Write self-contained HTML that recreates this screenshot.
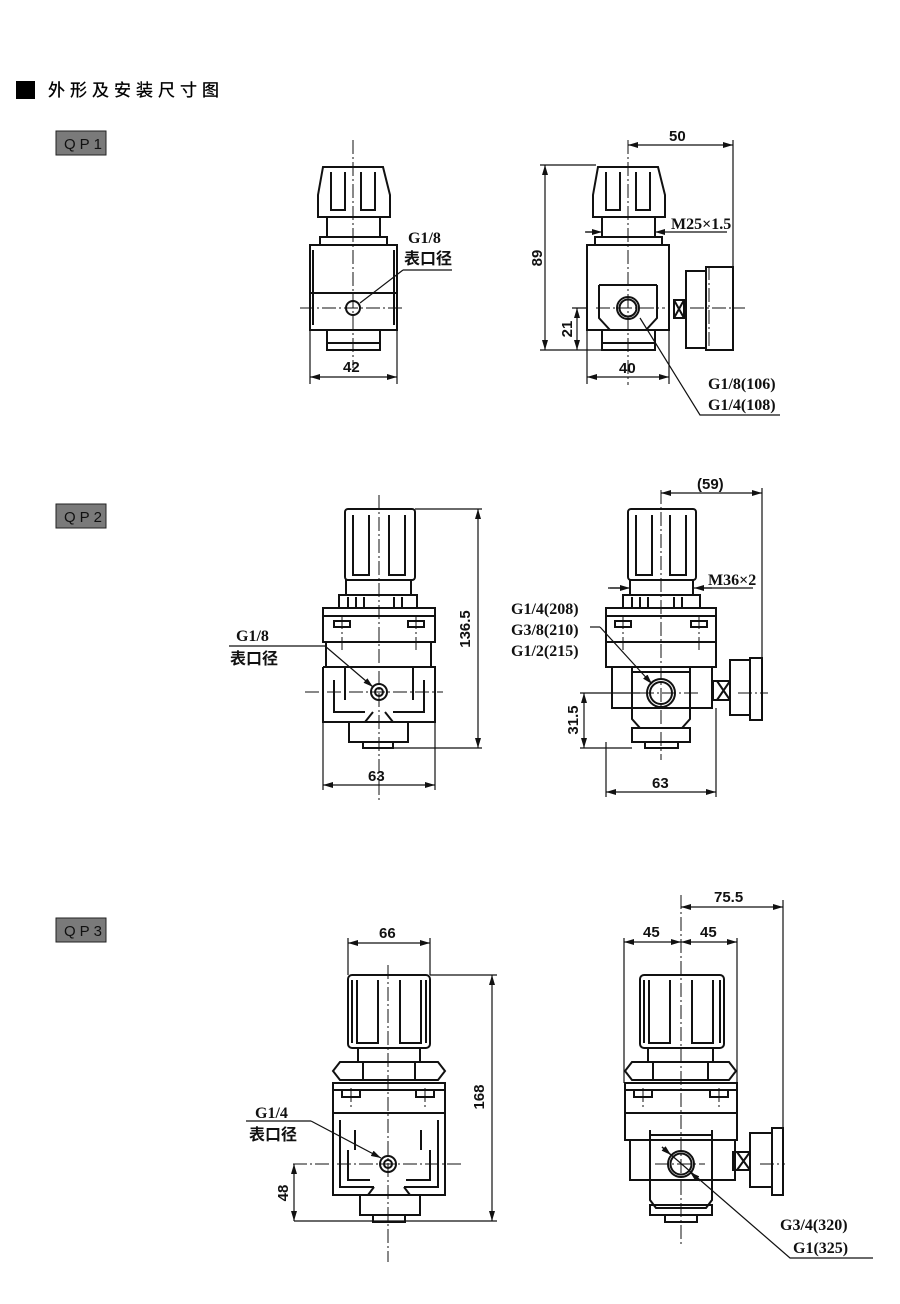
<!DOCTYPE html>
<html><head><meta charset="utf-8"><style>
html,body{margin:0;padding:0;background:#fff}
svg{display:block}
.t{font-family:"Liberation Serif","Noto Serif CJK SC",serif;font-weight:bold;font-size:16px;fill:#111}
.d{font-family:"Liberation Sans","Noto Sans CJK SC",sans-serif;font-weight:bold;font-size:15px;fill:#111}
.c{font-family:"Liberation Sans","Noto Sans CJK SC",sans-serif;font-weight:bold;font-size:16px;fill:#111}
</style></head><body>
<svg width="900" height="1304" viewBox="0 0 900 1304" xmlns="http://www.w3.org/2000/svg">
<defs>
<marker id="a" viewBox="0 0 10 6" refX="10" refY="3" markerWidth="10" markerHeight="6" orient="auto-start-reverse" markerUnits="userSpaceOnUse"><path d="M0,0 L10,3 L0,6 z" fill="#111"/></marker>
</defs>
<rect x="16" y="81" width="19" height="18" fill="#000"/>
<text x="48" y="96" font-family="'Liberation Sans','Noto Sans CJK SC',sans-serif" font-size="17" letter-spacing="5" fill="#000" stroke="#000" stroke-width="0.3">外形及安装尺寸图</text>
<g font-family="'Liberation Sans',sans-serif" font-size="15" fill="#111" letter-spacing="4">
<rect x="56" y="131" width="50" height="24" fill="#7a7a7a" stroke="#222"/><text x="64" y="149">QP1</text>
<rect x="56" y="504" width="50" height="24" fill="#7a7a7a" stroke="#222"/><text x="64" y="522">QP2</text>
<rect x="56" y="918" width="50" height="24" fill="#7a7a7a" stroke="#222"/><text x="64" y="936">QP3</text>
</g>

<g fill="none" stroke="#111" stroke-width="2">
<!-- QP1 left -->
<path d="M323,167 L383,167 L390,195 L390,217 L318,217 L318,195 Z"/>
<path d="M331,172 V210 H345 V172 M361,172 V210 H375 V172"/>
<rect x="327" y="217" width="53" height="20"/><rect x="320" y="237" width="67" height="8"/>
<rect x="310" y="245" width="87" height="85"/><line x1="310" y1="293" x2="397" y2="293"/>
<path d="M313,250 V325 M394,250 V325"/>
<rect x="327" y="330" width="53" height="20"/><path d="M327,343 H380"/>
<circle cx="353" cy="308" r="7"/>
<!-- QP1 right -->
<path d="M598,167 L658,167 L665,195 L665,217 L593,217 L593,195 Z"/>
<path d="M606,172 V210 H620 V172 M636,172 V210 H650 V172"/>
<rect x="602" y="217" width="53" height="20"/><rect x="595" y="237" width="67" height="8"/>
<rect x="587" y="245" width="82" height="85"/><path d="M599,285 H657 M599,285 V318 L610,330 M657,285 V318 L646,330"/>
<rect x="602" y="330" width="53" height="20"/><path d="M602,343 H655"/>
<circle cx="628" cy="308" r="11"/><circle cx="628" cy="308" r="8.5"/>
<rect x="674" y="300" width="10" height="18"/><path d="M674,300 L684,318 M684,300 L674,318"/>
<rect x="686" y="271" width="20" height="77"/><rect x="706" y="267" width="27" height="83"/>
<!-- QP2 left -->
<rect x="345" y="509" width="70" height="71" rx="3"/>
<path d="M353,515 V575 H369 V515 M389,515 V575 H405 V515"/>
<rect x="346" y="580" width="65" height="15"/><rect x="339" y="595" width="78" height="13"/>
<path d="M348,597 V608 M356,597 V608 M364,597 V608 M394,597 V608 M402,597 V608"/>
<rect x="323" y="608" width="112" height="34"/><path d="M323,616 H435"/>
<rect x="334" y="621" width="16" height="6"/><rect x="408" y="621" width="16" height="6"/>
<rect x="326" y="642" width="105" height="25"/>
<path d="M323,667 H435 V722 H393 L385,712 M323,667 V722 H365 L373,712"/>
<path d="M334,680 V712 H365 M424,680 V712 H393 M345,667 V700 M413,667 V700"/>
<rect x="349" y="722" width="59" height="20"/><rect x="363" y="742" width="30" height="6"/>
<circle cx="379" cy="692" r="8"/><circle cx="379" cy="692" r="4"/>
<!-- QP2 right -->
<rect x="628" y="509" width="68" height="71" rx="3"/>
<path d="M636,515 V575 H652 V515 M670,515 V575 H686 V515"/>
<rect x="630" y="580" width="63" height="15"/><rect x="623" y="595" width="77" height="13"/>
<path d="M632,597 V608 M640,597 V608 M648,597 V608 M674,597 V608 M682,597 V608"/>
<rect x="606" y="608" width="110" height="34"/><path d="M606,616 H716"/>
<rect x="615" y="621" width="16" height="6"/><rect x="691" y="621" width="16" height="6"/>
<rect x="606" y="642" width="110" height="25"/>
<rect x="612" y="667" width="100" height="41"/>
<path d="M632,667 V719 L640,728 H682 L690,719 V667 M632,672 H690"/>
<rect x="632" y="728" width="58" height="14"/><rect x="645" y="742" width="33" height="6"/>
<circle cx="661" cy="693" r="14"/><circle cx="661" cy="693" r="11"/>
<rect x="713" y="681" width="17" height="19"/><path d="M717,681 L730,700 M730,681 L717,700"/>
<rect x="730" y="660" width="20" height="55"/><rect x="750" y="658" width="12" height="62"/>
<!-- QP3 left -->
<rect x="348" y="975" width="82" height="73" rx="4"/>
<path d="M352,980 V1043 M426,980 V1043 M357,980 V1043 H378 V980 M400,980 V1043 H421 V980"/>
<rect x="358" y="1048" width="62" height="14"/>
<path d="M340,1062 H438 L445,1071 L438,1080 H340 L333,1071 Z M363,1062 V1080 M415,1062 V1080"/>
<rect x="333" y="1083" width="112" height="30"/><path d="M333,1090 H445"/>
<rect x="342" y="1090" width="18" height="7"/><rect x="416" y="1090" width="18" height="7"/>
<path d="M333,1113 V1195 H368 L374,1187 M445,1113 V1195 H410 L404,1187 M333,1113 H445"/>
<path d="M340,1120 V1187 H374 M438,1120 V1187 H404 M348,1150 V1180 H370 M430,1150 V1180 H406 M355,1130 V1150 M421,1130 V1150"/>
<rect x="360" y="1195" width="60" height="20"/><rect x="373" y="1215" width="32" height="7"/>
<circle cx="388" cy="1164" r="8"/><circle cx="388" cy="1164" r="4"/>
<!-- QP3 right -->
<rect x="640" y="975" width="84" height="73" rx="4"/>
<path d="M644,980 V1043 M720,980 V1043 M649,980 V1043 H670 V980 M692,980 V1043 H713 V980"/>
<rect x="648" y="1048" width="65" height="14"/>
<path d="M632,1062 H729 L736,1071 L729,1080 H632 L625,1071 Z M653,1062 V1080 M708,1062 V1080"/>
<rect x="625" y="1083" width="112" height="30"/><path d="M625,1090 H737"/>
<rect x="634" y="1090" width="18" height="7"/><rect x="710" y="1090" width="18" height="7"/>
<rect x="625" y="1113" width="112" height="27"/>
<rect x="630" y="1140" width="105" height="40"/>
<path d="M650,1130 V1200 L656,1208 H706 L712,1200 V1130 M650,1135 H712"/>
<rect x="650" y="1205" width="62" height="10"/><rect x="665" y="1215" width="32" height="7"/>
<circle cx="681" cy="1164" r="13"/><circle cx="681" cy="1164" r="10.5"/>
<rect x="733" y="1152" width="17" height="18"/><path d="M737,1152 L750,1170 M750,1152 L737,1170"/>
<rect x="750" y="1133" width="22" height="54"/><rect x="772" y="1128" width="11" height="67"/>
</g>

<!-- centerlines -->
<g stroke="#111" stroke-width="1" stroke-dasharray="14 3 2 3" fill="none">
<path d="M353,140 V368 M300,308 H405"/>
<path d="M628,140 V385 M596,308 H665 M690,308 H745 M709,266 V350"/>
<path d="M379,495 V800 M305,692 H443 M342,615 V650 M416,615 V650"/>
<path d="M661,490 V760 M640,693 H700 M738,693 H768 M623,615 V650 M699,615 V650"/>
<path d="M388,965 V1262 M293,1164 H462 M351,1088 V1110 M425,1088 V1110"/>
<path d="M681,895 V1245 M655,1164 H705 M760,1164 H785 M643,1088 V1110 M719,1088 V1110"/>
</g>

<!-- dimension lines -->
<g stroke="#111" stroke-width="1.2" fill="none">
<path d="M310,330 V384 M397,330 V384"/>
<line x1="310" y1="377" x2="397" y2="377" marker-start="url(#a)" marker-end="url(#a)"/>
<path d="M403,270 H452 M403,270 L360,303"/>
<path d="M733,140 V268 M596,165 H540 M602,350 H540 M587,308 H572 M587,330 V384 M669,330 V384"/>
<line x1="628" y1="145" x2="733" y2="145" marker-start="url(#a)" marker-end="url(#a)"/>
<line x1="545" y1="165" x2="545" y2="350" marker-start="url(#a)" marker-end="url(#a)"/>
<line x1="577" y1="308" x2="577" y2="350" marker-start="url(#a)" marker-end="url(#a)"/>
<line x1="587" y1="377" x2="669" y2="377" marker-start="url(#a)" marker-end="url(#a)"/>
<path d="M585,232 H598 M670,232 H727"/><line x1="586" y1="232" x2="602" y2="232" marker-end="url(#a)"/><line x1="670" y1="232" x2="655" y2="232" marker-end="url(#a)"/>
<path d="M640,318 L700,415 H780"/>
<path d="M415,509 H482 M393,748 H482 M323,722 V790 M435,722 V790"/>
<line x1="478" y1="509" x2="478" y2="748" marker-start="url(#a)" marker-end="url(#a)"/>
<line x1="323" y1="785" x2="435" y2="785" marker-start="url(#a)" marker-end="url(#a)"/>
<path d="M229,646 H325"/><line x1="325" y1="646" x2="373" y2="687" marker-end="url(#a)"/>
<path d="M762,488 V720 M606,742 V797 M716,708 V797 M632,748 H580 M640,693 H580"/>
<line x1="661" y1="493" x2="762" y2="493" marker-start="url(#a)" marker-end="url(#a)"/>
<line x1="584" y1="693" x2="584" y2="748" marker-start="url(#a)" marker-end="url(#a)"/>
<line x1="606" y1="792" x2="716" y2="792" marker-start="url(#a)" marker-end="url(#a)"/>
<path d="M608,588 H620 M702,588 H753"/><line x1="610" y1="588" x2="630" y2="588" marker-end="url(#a)"/><line x1="712" y1="588" x2="694" y2="588" marker-end="url(#a)"/>
<path d="M590,627 H600"/><line x1="600" y1="627" x2="652" y2="684" marker-end="url(#a)"/>
<path d="M348,938 V975 M430,938 V975 M430,975 H497 M294,1221 H497"/>
<line x1="348" y1="943" x2="430" y2="943" marker-start="url(#a)" marker-end="url(#a)"/>
<line x1="492" y1="975" x2="492" y2="1221" marker-start="url(#a)" marker-end="url(#a)"/>
<line x1="294" y1="1164" x2="294" y2="1221" marker-start="url(#a)" marker-end="url(#a)"/>
<path d="M246,1121 H311"/><line x1="311" y1="1121" x2="381" y2="1158" marker-end="url(#a)"/>
<path d="M783,900 V1195 M624,938 V1083 M737,938 V1083"/>
<line x1="681" y1="907" x2="783" y2="907" marker-start="url(#a)" marker-end="url(#a)"/>
<line x1="624" y1="942" x2="681" y2="942" marker-start="url(#a)" marker-end="url(#a)"/>
<line x1="681" y1="942" x2="737" y2="942" marker-start="url(#a)" marker-end="url(#a)"/>
<path d="M662,1147 L790,1258 H873"/>
<line x1="700" y1="1181" x2="690" y2="1172" marker-end="url(#a)"/><line x1="662" y1="1147" x2="671" y2="1155" marker-end="url(#a)"/>
</g>

<text class="t" x="408" y="243">G1/8</text>
<text class="c" x="404" y="264">表口径</text>
<text class="d" x="343" y="372">42</text>
<text class="d" x="669" y="141">50</text>
<text class="t" x="671" y="229" font-size="13">M25×1.5</text>
<text class="d" transform="translate(542,258) rotate(-90)" text-anchor="middle">89</text>
<text class="d" transform="translate(572,329) rotate(-90)" text-anchor="middle">21</text>
<text class="d" x="619" y="373">40</text>
<text class="t" x="708" y="389">G1/8(106)</text>
<text class="t" x="708" y="410">G1/4(108)</text>

<text class="t" x="236" y="641">G1/8</text>
<text class="c" x="230" y="664">表口径</text>
<text class="d" transform="translate(470,629) rotate(-90)" text-anchor="middle">136.5</text>
<text class="d" x="368" y="781">63</text>
<text class="d" x="697" y="489">(59)</text>
<text class="t" x="708" y="585" font-size="13">M36×2</text>
<text class="t" x="511" y="614">G1/4(208)</text>
<text class="t" x="511" y="635">G3/8(210)</text>
<text class="t" x="511" y="656">G1/2(215)</text>
<text class="d" transform="translate(578,720) rotate(-90)" text-anchor="middle">31.5</text>
<text class="d" x="652" y="788">63</text>

<text class="d" x="379" y="938">66</text>
<text class="d" transform="translate(484,1097) rotate(-90)" text-anchor="middle">168</text>
<text class="t" x="255" y="1118">G1/4</text>
<text class="c" x="249" y="1140">表口径</text>
<text class="d" transform="translate(288,1193) rotate(-90)" text-anchor="middle">48</text>
<text class="d" x="714" y="902">75.5</text>
<text class="d" x="643" y="937">45</text>
<text class="d" x="700" y="937">45</text>
<text class="t" x="780" y="1230">G3/4(320)</text>
<text class="t" x="793" y="1253">G1(325)</text>
</svg>
</body></html>
